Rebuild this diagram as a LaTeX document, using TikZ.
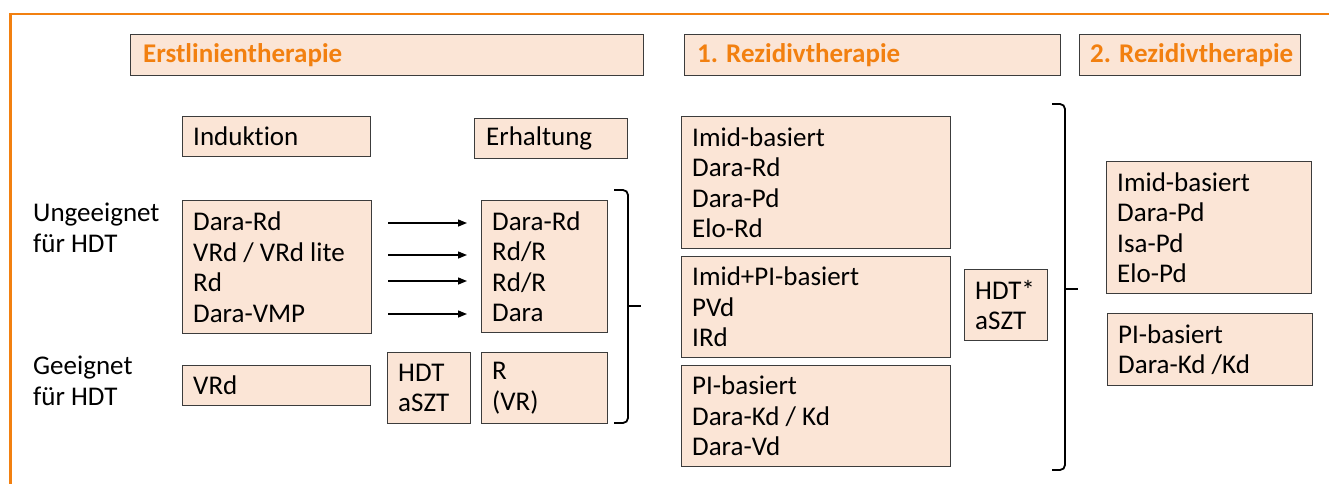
\documentclass[tikz,border=0pt]{standalone}
\usepackage{fontspec}
\setmainfont{Carlito}[Ligatures=NoCommon]
\usetikzlibrary{arrows.meta,calc}
\definecolor{peach}{HTML}{FBE5D6}
\definecolor{frameorange}{RGB}{242,128,16}
\definecolor{boxline}{HTML}{3C3C3C}
\begin{document}
\begin{tikzpicture}[x=1pt,y=-1pt,
  box/.style={draw=boxline, line width=1.3pt, fill=peach, anchor=north west, inner sep=0pt},
  txt/.style={font=\fontsize{27}{30.5}\selectfont, text=black, anchor=west, align=left, inner sep=0pt},
  hdrtxt/.style={font=\fontsize{27}{30}\selectfont\bfseries, text=frameorange, anchor=west, inner sep=0pt},
  arr/.style={-{Triangle[length=9pt,width=7pt]}, line width=1.4pt},
  bracepath/.style={line width=1.8pt, rounded corners=5pt}]
\useasboundingbox (0,0) rectangle (1329,483);
% frame
\draw[frameorange, line width=2.7pt] (10.5,490) -- (10.5,14) -- (1340,14);
% headers
\node[box, minimum width=513pt, minimum height=41pt] (h1) at (130,34) {};
\node[hdrtxt] (h1t) at ($(h1.west)+(13,0)$) {Erstlinientherapie};
\node[box, minimum width=376pt, minimum height=41pt] (h2) at (684,34) {};
\node[hdrtxt] (h2t) at ($(h2.west)+(13,0)$) {1. Rezidivtherapie};
\node[box, minimum width=221pt, minimum height=41pt] (h3) at (1079,34) {};
\node[hdrtxt] (h3t) at ($(h3.west)+(11,0)$) {2. Rezidivtherapie};
% left labels
\node[txt] (lab1) at (33,228) {Ungeeignet\\für HDT};
\node[txt] (lab2) at (33,381) {Geeignet\\für HDT};
% Erstlinie
\node[box, minimum width=188pt, minimum height=40pt] (ind) at (182,116) {};
\node[txt] (indt) at ($(ind.west)+(11,0)$) {Induktion};
\node[box, minimum width=153pt, minimum height=40pt] (erh) at (474,118) {};
\node[txt] (erht) at ($(erh.west)+(12,0)$) {Erhaltung};
\node[box, minimum width=189pt, minimum height=133pt] (ung) at (182,200) {};
\node[txt] (ungt) at ($(ung.west)+(11,0)$) {Dara-Rd\\VRd / VRd lite\\Rd\\Dara-VMP};
\node[box, minimum width=126pt, minimum height=132pt] (mnt) at (481,200) {};
\node[txt] (mntt) at ($(mnt.west)+(11,0)$) {Dara-Rd\\Rd/R\\Rd/R\\Dara};
\node[box, minimum width=188pt, minimum height=40pt] (vrd) at (182,365) {};
\node[txt] (vrdt) at ($(vrd.west)+(11,0)$) {VRd};
\node[box, minimum width=83pt, minimum height=71pt] (hdt) at (387,352) {};
\node[txt] (hdtt) at ($(hdt.west)+(11,0)$) {HDT\\aSZT};
\node[box, minimum width=126pt, minimum height=71pt] (rvr) at (481,352) {};
\node[txt] (rvrt) at ($(rvr.west)+(11,0)$) {R\\(VR)};
% arrows
\foreach \dy in {23,55,81,114}{
  \draw[arr] ($(ung.north east)+(16,\dy)$) -- ($(mnt.north west)+(-14,\dy)$);
}
% brace 1
\draw[bracepath] (614,190) -- (628,190) -- (628,423) -- (614,423);
\draw[line width=1.8pt] (628,306) -- (641,306);
% 1. Rezidiv
\node[box, minimum width=269pt, minimum height=132pt] (rz1) at (681,116) {};
\node[txt] (rz1t) at ($(rz1.west)+(11,0)$) {Imid-basiert\\Dara-Rd\\Dara-Pd\\Elo-Rd};
\node[box, minimum width=269pt, minimum height=101pt] (rz2) at (681,256) {};
\node[txt] (rz2t) at ($(rz2.west)+(11,0)$) {Imid+PI-basiert\\PVd\\IRd};
\node[box, minimum width=269pt, minimum height=101pt] (rz3) at (681,365) {};
\node[txt] (rz3t) at ($(rz3.west)+(11,0)$) {PI-basiert\\Dara-Kd / Kd\\Dara-Vd};
\node[box, minimum width=83pt, minimum height=71pt] (hdts) at (964,269) {};
\node[txt] (hdtst) at ($(hdts.west)+(11,0)$) {HDT*\\aSZT};
% brace 2
\draw[bracepath] (1052,104) -- (1065,104) -- (1065,470) -- (1052,470);
\draw[line width=1.8pt] (1065,289) -- (1078,289);
% 2. Rezidiv
\node[box, minimum width=205pt, minimum height=132pt] (zz1) at (1106,161) {};
\node[txt] (zz1t) at ($(zz1.west)+(11,0)$) {Imid-basiert\\Dara-Pd\\Isa-Pd\\Elo-Pd};
\node[box, minimum width=205pt, minimum height=72pt] (zz2) at (1107,313) {};
\node[txt] (zz2t) at ($(zz2.west)+(11,0)$) {PI-basiert\\Dara-Kd /Kd};
\end{tikzpicture}
\end{document}
